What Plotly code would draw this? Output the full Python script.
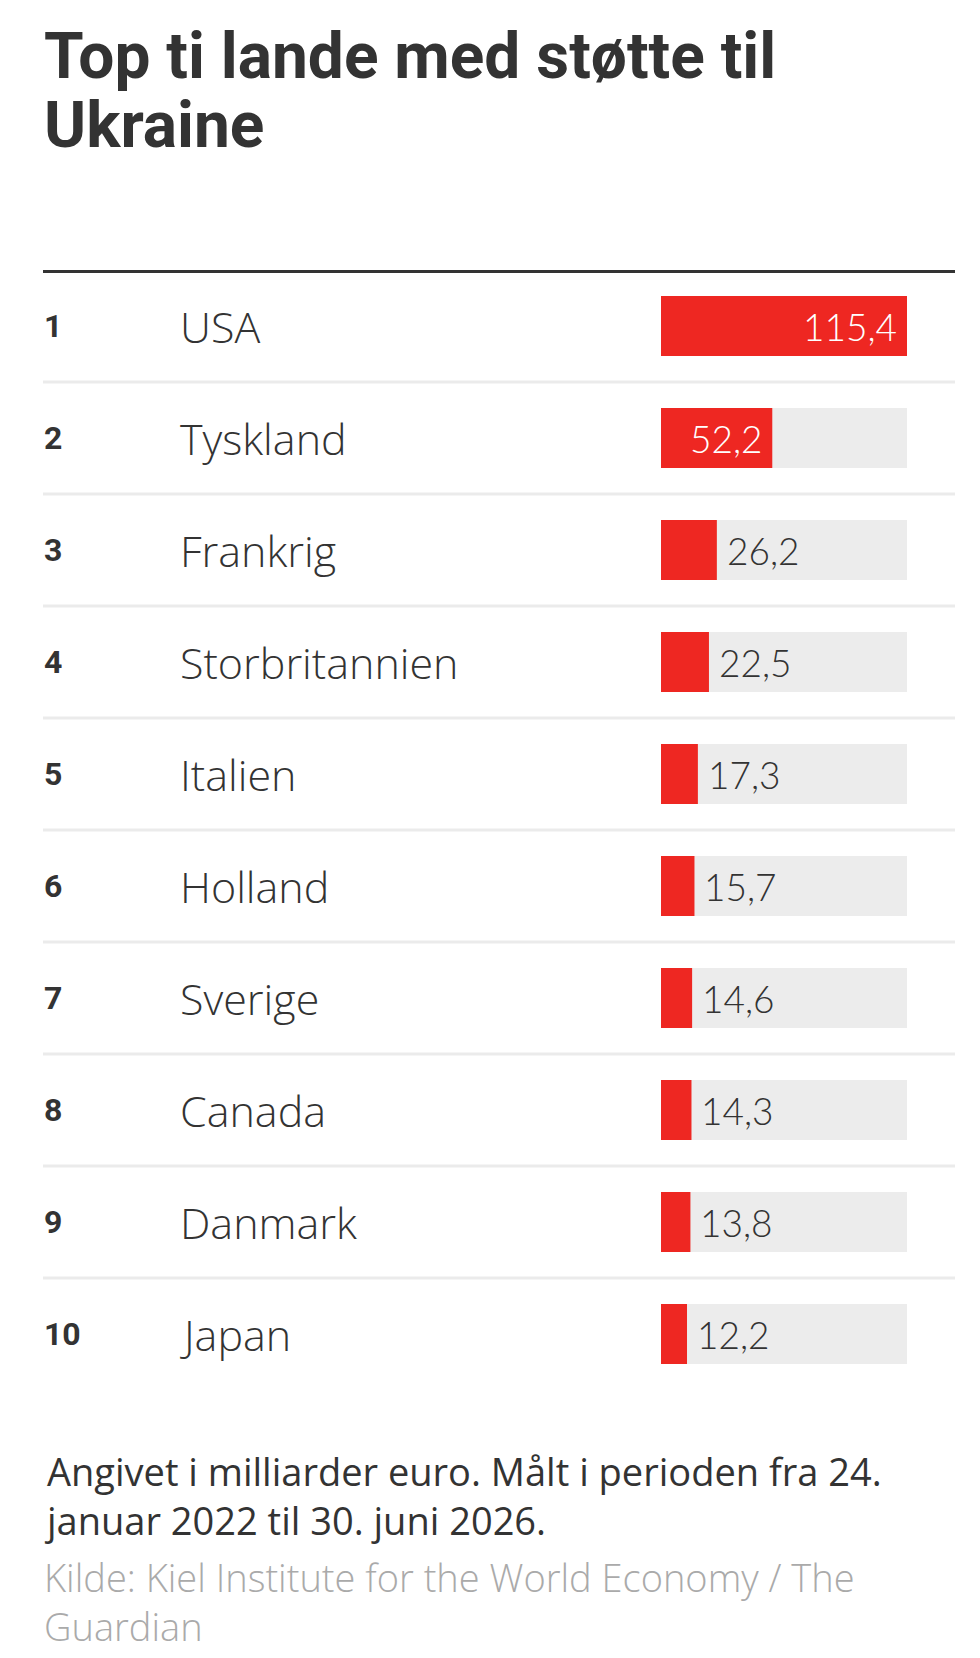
import plotly.graph_objects as go

# data
ranks = ["1", "2", "3", "4", "5", "6", "7", "8", "9", "10"]
countries = ["USA", "Tyskland", "Frankrig", "Storbritannien", "Italien",
             "Holland", "Sverige", "Canada", "Danmark", "Japan"]
values = [115.4, 52.2, 26.2, 22.5, 17.3, 15.7, 14.6, 14.3, 13.8, 12.2]

title_lines = ["Top ti lande med støtte til", "Ukraine"]
note = "Angivet i milliarder euro. Målt i perioden fra 24.<br>januar 2022 til 30. juni 2026."
source = "Kilde: Kiel Institute for the World Economy / The<br>Guardian"

# the page body has an 8px margin, so the figure is a bit smaller than the window
PAD = 8
W, H = 980 - PAD, 1658 - PAD
RED = "#ee2722"
TRACK = "#ececec"
DARK = "#333333"


def px(x):
    return (x - PAD) / W


def py(y):
    return 1 - (y - PAD) / H


vmax = max(values)
labels = [f"{v:.1f}".replace(".", ",") for v in values]

fig = go.Figure()

# grey track behind each bar
fig.add_trace(go.Bar(
    y=countries, x=[vmax] * len(countries), orientation="h",
    marker=dict(color=TRACK, line=dict(width=0)), width=0.535,
    hoverinfo="skip", showlegend=False,
))
fig.add_trace(go.Bar(
    y=countries, x=values, orientation="h",
    marker=dict(color=RED, line=dict(width=0)), width=0.535,
    hoverinfo="skip", showlegend=False,
))

annotations = []
for r, c, v, lab in zip(ranks, countries, values, labels):
    annotations.append(dict(
        x=px(42), xref="paper", y=c, yref="y", text=r, showarrow=False,
        xanchor="left", yanchor="middle",
        font=dict(family="Roboto", size=32, weight="bold", color=DARK),
    ))
    annotations.append(dict(
        x=px(178), xref="paper", y=c, yref="y", text=c, showarrow=False,
        xanchor="left", yanchor="middle",
        font=dict(family="Open Sans", size=43, weight=300, color=DARK),
    ))
    inside = v / vmax > 0.35
    annotations.append(dict(
        x=v, xref="x", y=c, yref="y", text=lab, showarrow=False,
        xanchor="right" if inside else "left", yanchor="middle",
        xshift=-8 if inside else 8,
        font=dict(family="Lato", size=37, weight=300,
                  color="white" if inside else DARK),
    ))

# title: one annotation per line to get the tighter line spacing
for i, line in enumerate(title_lines):
    annotations.append(dict(
        x=px(42), xref="paper", y=py(17 + 69 * i), yref="paper", text=line,
        showarrow=False, xanchor="left", yanchor="top", align="left",
        font=dict(family="Roboto", size=64, weight="bold", color=DARK),
    ))
annotations.append(dict(
    x=px(42), xref="paper", y=py(1443), yref="paper", text=note,
    showarrow=False, xanchor="left", yanchor="top", align="left",
    font=dict(family="Open Sans", size=38, color=DARK),
))
annotations.append(dict(
    x=px(42), xref="paper", y=py(1549), yref="paper", text=source,
    showarrow=False, xanchor="left", yanchor="top", align="left",
    font=dict(family="Open Sans", size=38, weight=300, color="#aaaaaa"),
))

shapes = [dict(type="line", xref="paper", yref="y", x0=px(43), x1=px(955),
               y0=-0.5, y1=-0.5, line=dict(color=DARK, width=6))]
for i in range(len(countries) - 1):
    shapes.append(dict(type="line", xref="paper", yref="y", x0=px(43), x1=px(955),
                       y0=i + 0.5, y1=i + 0.5, line=dict(color="#ebebeb", width=3),
                       layer="below"))

fig.update_layout(
    width=W, height=H,
    margin=dict(l=0, r=0, t=0, b=0),
    paper_bgcolor="white", plot_bgcolor="white",
    barmode="overlay",
    xaxis=dict(domain=[px(661), px(907)], range=[0, vmax], visible=False, fixedrange=True),
    yaxis=dict(domain=[py(1390), py(270)], categoryorder="array",
               categoryarray=countries, range=[len(countries) - 0.5, -0.5],
               visible=False, fixedrange=True),
    annotations=annotations,
    shapes=shapes,
)

fig.write_html("out.html", config={"displayModeBar": False})
